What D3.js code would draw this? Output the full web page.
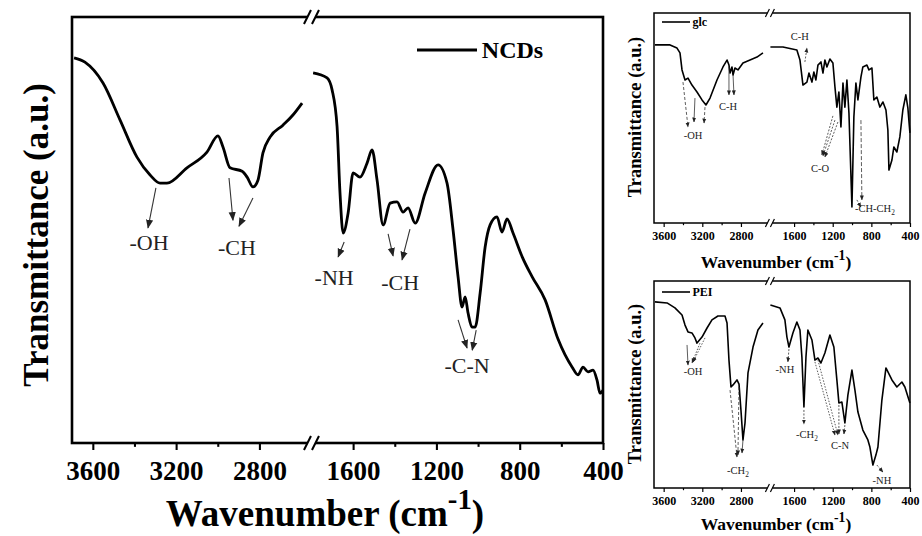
<!DOCTYPE html>
<html lang="en">
<head>
<meta charset="utf-8">
<title>FTIR spectra</title>
<script src="https://d3js.org/d3.v7.min.js"></script>
<style>
  body { margin: 0; background: #fff; }
  svg { display: block; }
</style>
</head>
<body>
<script>
// tick values, shared by the three panels
const majorTicks = [3600, 3200, 2800, 1600, 1200, 800, 400];
const minorTicks = [3400, 3000, 1400, 1000, 600];

// NCDs spectrum (wavenumber, transmittance a.u.)
const ncdsWave = [3690,3638,3551,3469,3388,3325,3277,3244,3148,3052,2999,2975,2941,2883,2859,2831,2807,2783,2749,2687,2639,2595,
  1792,1725,1701,1677,1663,1648,1624,1600,1567,1533,1509,1485,1456,1422,1389,1360,1336,1302,1254,1192,1149,1120,1096,1077,1062,
  1048,1029,1014,990,966,942,909,885,861,832,788,740,678,616,548,520,496,472,448,429,414,400];
const ncdsTrans = [90.4,89.4,84.5,75.8,67.1,62.9,61.0,61.0,64.6,68.3,72.1,69.5,64.6,63.8,62.4,60.1,61.7,68.1,71.8,74.6,77.0,79.8,
  86.9,85.7,82.9,74.2,58.7,49.3,54.0,63.4,62.4,65.7,68.8,61.7,51.2,56.3,56.6,54.2,55.2,51.6,58.7,65.3,61.0,50.0,39.0,31.9,34.3,
  30.5,27.2,27.2,35.2,46.0,51.2,53.1,49.5,52.6,49.3,43.7,39.0,33.6,24.4,17.8,16.0,17.8,16.7,17.1,14.8,11.7,12.4];

// glucose spectrum
const glcWave = [3690,3534,3462,3431,3410,3379,3348,3307,3255,3203,3162,3120,3048,2986,2944,2924,2913,2893,2882,2862,2831,2779,2706,2634,2572,
  1845,1715,1571,1539,1508,1467,1446,1415,1395,1374,1353,1322,1301,1281,1260,1229,1198,1177,1157,1136,1115,1094,1074,1053,1032,
  1001,981,960,939,908,888,846,825,794,774,743,712,680,649,629,618,587,567,536,505,474,443,422,401];
const glcTrans = [84.8,84.8,83.3,81.0,72.9,68.1,69.0,65.7,62.4,58.6,56.2,59.5,68.1,74.3,77.6,75.2,71.4,74.3,70.5,73.8,72.9,76.2,77.6,79.0,81.0,
  83.8,83.8,82.4,77.6,65.7,67.1,71.4,67.1,71.9,68.1,75.2,76.7,71.4,77.6,74.3,78.1,76.2,64.8,55.2,62.4,45.7,66.7,55.2,68.1,52.4,
  7.6,50.5,66.7,58.6,69.5,74.3,75.2,72.9,73.8,58.6,60.0,55.2,57.6,53.8,44.3,25.2,30.0,36.2,33.8,41.0,53.8,61.0,54.8,42.9];

// PEI spectrum
const peiWave = [3690,3565,3483,3410,3379,3348,3307,3276,3255,3203,3151,3100,3038,2965,2944,2924,2903,2882,2841,2820,2800,2779,2758,2727,2675,2624,2572,
  1845,1746,1695,1674,1653,1612,1571,1539,1519,1498,1477,1457,1415,1384,1353,1322,1281,1229,1188,1157,1136,1105,1074,1043,
  1001,970,939,888,836,815,784,753,732,691,649,587,536,484,453,401];
const peiTrans = [89.9,89.4,87.0,83.6,78.7,75.4,74.9,72.5,70.0,72.9,77.3,81.2,83.1,83.1,79.7,61.8,48.8,49.8,52.2,50.2,37.7,23.2,31.4,55.6,68.1,76.3,79.7,
  88.4,87.0,81.2,72.9,68.1,74.9,80.2,76.3,63.3,39.1,63.3,76.3,71.5,61.8,62.8,60.4,65.2,73.9,68.1,52.2,41.1,41.5,31.4,44.9,
  57.0,47.3,36.7,28.0,23.2,19.8,11.1,15.9,19.8,42.5,58.0,52.2,48.8,51.2,48.8,41.1];

// band assignments: arrows [w1, t1, w2, t2] and labels [text, w, t]
const ncdsArrows = [[3297,59.9,3335,50.5],[2946,62.2,2927,52.3],[2831,57.5,2898,50.9],[1643,47.2,1672,43.7],
  [1432,49.1,1408,43.9],[1327,50.2,1365,43.0],[1096,28.9,1053,22.3],[1009,26.5,1028,21.8]];
const ncdsLabels = [["-OH",3330,45.3],["-CH",2908,44.1],["-NH",1691,37.1],["-CH",1374,35.9],["-C-N",1053,16.4]];

const glcArrows = [[3400,67.1,3348,45.7],[3276,59.5,3286,48.1],[3172,55.2,3182,47.6],[2924,74.3,2924,61.0],[2882,70.5,2872,61.0],
  [1488,76.7,1467,83.3],[1177,49,1301,31.9],[1146,48.1,1281,31.4],[1198,51,1312,32.4],[908,49,898,11],[950,11,908,7.6]];
const glcArrowDash = ["3,2","","3,2","","","2,1.5","2,1.5","2,1.5","2,1.5","4,2","2,1.5"];
const glcLabels = [["-OH",3296,40],["C-H",2934,53.8],["C-H",1540,87.1],["C-O",1332,24.3],["-CH-CH_2",763,5.2]];

const peiArrows = [[3358,69.1,3348,59.4],[3224,70,3307,60.4],[3172,72.5,3296,60.9],[2913,47.3,2841,15],[2820,48.8,2831,16.0],
  [2779,23.2,2789,16.9],[1653,67.1,1664,60.9],[1498,37.7,1498,30.9],[1384,60.9,1177,25.6],[1353,61.8,1146,25.6],
  [1136,40.1,1136,26.1],[1074,30.4,1084,26.1],[743,11.1,680,7.7]];
const peiArrowDash = ["","1.5,1.5","1.5,1.5","3,2","3,2","","2,1.5","2,1.5","1.5,1.5","1.5,1.5","2,1.5","2,1.5","2,1.5"];
const peiLabels = [["-OH",3296,54.6],["-CH_2",2831,6.8],["-NH",1695,55.6],["-CH_2",1467,24.2],["C-N",1125,18.8],["-NH",691,1.9]];

const serif = "'Times New Roman', 'Liberation Serif', serif";

const svg = d3.select("body").append("svg")
  .attr("width", 922)
  .attr("height", 536);

const defs = svg.append("defs");
function marker(id, size) {
  defs.append("marker")
    .attr("id", id)
    .attr("viewBox", "0 0 10 10")
    .attr("refX", 9).attr("refY", 5)
    .attr("markerUnits", "userSpaceOnUse")
    .attr("markerWidth", size).attr("markerHeight", size)
    .attr("orient", "auto")
    .append("path").attr("d", "M0,1 L10,5 L0,9 Z").attr("fill", "#222");
}
marker("headBig", 9);
marker("headSmall", 5);

function drawPanel(p) {
  const g = svg.append("g");
  const spanL = p.leftDomain[0] - p.leftDomain[1];
  const spanR = p.rightDomain[0] - p.rightDomain[1];
  const brk = p.left + (p.right - p.left) * spanL / (spanL + spanR);

  const xl = d3.scaleLinear().domain(p.leftDomain).range([p.left, brk]);
  const xr = d3.scaleLinear().domain(p.rightDomain).range([brk, p.right]);
  const y = d3.scaleLinear().domain([0, 100]).range([p.bottom, p.top]);
  const x = w => (w > 2200 ? xl(w) : xr(w));

  // spectrum, one path on each side of the break
  const pts = p.wave.map((w, i) => [w, p.trans[i]]);
  const line = d3.line().x(d => x(d[0])).y(d => y(d[1])).curve(p.curve);
  [pts.filter(d => d[0] > 2200), pts.filter(d => d[0] <= 2200)].forEach(seg => {
    g.append("path")
      .attr("d", line(seg))
      .attr("fill", "none")
      .attr("stroke", "#000")
      .attr("stroke-width", p.lw)
      .attr("stroke-linejoin", "round");
  });

  // frame
  g.append("rect")
    .attr("x", p.left).attr("y", p.top)
    .attr("width", p.right - p.left).attr("height", p.bottom - p.top)
    .attr("fill", "none").attr("stroke", "#000").attr("stroke-width", p.fw);

  // bottom axes
  [[xl, t => t > 2200], [xr, t => t <= 2200]].forEach(([sc, keep]) => {
    const ax = g.append("g")
      .attr("transform", `translate(0,${p.bottom})`)
      .call(d3.axisBottom(sc).tickValues(majorTicks.filter(keep)).tickSize(p.tick).tickSizeOuter(0).tickFormat(d3.format("d")));
    ax.select(".domain").remove();
    ax.selectAll("line").attr("stroke-width", p.fw * 0.8);
    ax.selectAll("text")
      .attr("y", p.labelY).attr("dy", 0)
      .attr("font-family", serif).attr("font-weight", "bold")
      .attr("font-size", p.tickFont).attr("fill", "#000");

    const mn = g.append("g")
      .attr("transform", `translate(0,${p.bottom})`)
      .call(d3.axisBottom(sc).tickValues(minorTicks.filter(keep)).tickSize(p.tick * 0.55).tickSizeOuter(0).tickFormat(""));
    mn.select(".domain").remove();
    mn.selectAll("line").attr("stroke-width", p.fw * 0.8);
  });

  // break marks
  [p.top, p.bottom].forEach(yy => {
    g.append("rect")
      .attr("x", brk - p.gap / 2).attr("y", yy - p.fw)
      .attr("width", p.gap).attr("height", p.fw * 2)
      .attr("fill", "#fff");
    [-p.gap / 2, p.gap / 2].forEach(off => {
      g.append("line")
        .attr("x1", brk + off - p.slash / 2).attr("y1", yy + p.slash)
        .attr("x2", brk + off + p.slash / 2).attr("y2", yy - p.slash)
        .attr("stroke", "#000").attr("stroke-width", p.fw * 0.8);
    });
  });

  // band arrows
  g.selectAll(".arrow")
    .data(p.arrows)
    .join("line")
    .attr("x1", d => x(d[0])).attr("y1", d => y(d[1]))
    .attr("x2", d => x(d[2])).attr("y2", d => y(d[3]))
    .attr("stroke", "#333")
    .attr("stroke-width", p.aw)
    .attr("stroke-dasharray", (d, i) => (p.dash ? p.dash[i] : null))
    .attr("marker-end", `url(#${p.head})`);

  // band labels, "_" starts a subscript
  p.labels.forEach(d => {
    const parts = d[0].split("_");
    const t = g.append("text")
      .attr("x", x(d[1])).attr("y", y(d[2]))
      .attr("text-anchor", "middle")
      .attr("font-family", serif)
      .attr("font-size", p.annFont)
      .attr("fill", "#222");
    t.append("tspan").text(parts[0]);
    if (parts[1]) {
      t.append("tspan").attr("dy", p.annFont * 0.3).attr("font-size", p.annFont * 0.7).text(parts[1]);
    }
  });

  // legend
  g.append("line")
    .attr("x1", p.legX).attr("x2", p.legX + p.legLen)
    .attr("y1", p.legY).attr("y2", p.legY)
    .attr("stroke", "#000").attr("stroke-width", p.lw);
  g.append("text")
    .attr("x", p.legX + p.legLen + p.legFont * 0.2).attr("y", p.legY + p.legFont * 0.33)
    .attr("font-family", serif).attr("font-weight", "bold")
    .attr("font-size", p.legFont)
    .text(p.name);

  // axis titles
  g.append("text")
    .attr("transform", `translate(${p.yTitleX},${p.yTitleY}) rotate(-90)`)
    .attr("text-anchor", "middle")
    .attr("font-family", serif).attr("font-weight", "bold")
    .attr("font-size", p.yTitleFont)
    .text("Transmittance (a.u.)");

  const xt = g.append("text")
    .attr("x", p.xTitleX).attr("y", p.xTitleY)
    .attr("text-anchor", "middle")
    .attr("font-family", serif).attr("font-weight", "bold")
    .attr("font-size", p.titleFont);
  xt.append("tspan").text("Wavenumber (cm");
  xt.append("tspan").attr("dy", -p.titleFont * 0.45).attr("font-size", p.titleFont * 0.78).text("-1");
  xt.append("tspan").attr("dy", p.titleFont * 0.45).text(")");
}

drawPanel({
  name: "NCDs", wave: ncdsWave, trans: ncdsTrans, curve: d3.curveMonotoneX,
  arrows: ncdsArrows, labels: ncdsLabels, head: "headBig",
  leftDomain: [3700, 2550], rightDomain: [1800, 400],
  left: 72, right: 603, top: 17, bottom: 443,
  lw: 2.8, fw: 2.6, aw: 1.1, tick: 7, gap: 8, slash: 7,
  labelY: 37, tickFont: 27, annFont: 22,
  legX: 417, legY: 50, legLen: 60, legFont: 24,
  titleFont: 37, yTitleFont: 35, yTitleX: 48, yTitleY: 235, xTitleX: 325, xTitleY: 526
});

drawPanel({
  name: "glc", wave: glcWave, trans: glcTrans, curve: d3.curveLinear,
  arrows: glcArrows, dash: glcArrowDash, labels: glcLabels, head: "headSmall",
  leftDomain: [3700, 2500], rightDomain: [1850, 400],
  left: 654, right: 910, top: 13, bottom: 223,
  lw: 1.6, fw: 1.5, aw: 0.8, tick: 4, gap: 5, slash: 4,
  labelY: 17, tickFont: 12, annFont: 10.5,
  legX: 662, legY: 22, legLen: 28, legFont: 12,
  titleFont: 17.5, yTitleFont: 18.5, yTitleX: 641, yTitleY: 117, xTitleX: 776, xTitleY: 268
});

drawPanel({
  name: "PEI", wave: peiWave, trans: peiTrans, curve: d3.curveLinear,
  arrows: peiArrows, dash: peiArrowDash, labels: peiLabels, head: "headSmall",
  leftDomain: [3700, 2500], rightDomain: [1850, 400],
  left: 654, right: 910, top: 281, bottom: 488,
  lw: 1.6, fw: 1.5, aw: 0.8, tick: 4, gap: 5, slash: 4,
  labelY: 17, tickFont: 12, annFont: 10.5,
  legX: 662, legY: 292, legLen: 28, legFont: 12,
  titleFont: 17.5, yTitleFont: 18.5, yTitleX: 641, yTitleY: 384, xTitleX: 776, xTitleY: 530
});
</script>
</body>
</html>
